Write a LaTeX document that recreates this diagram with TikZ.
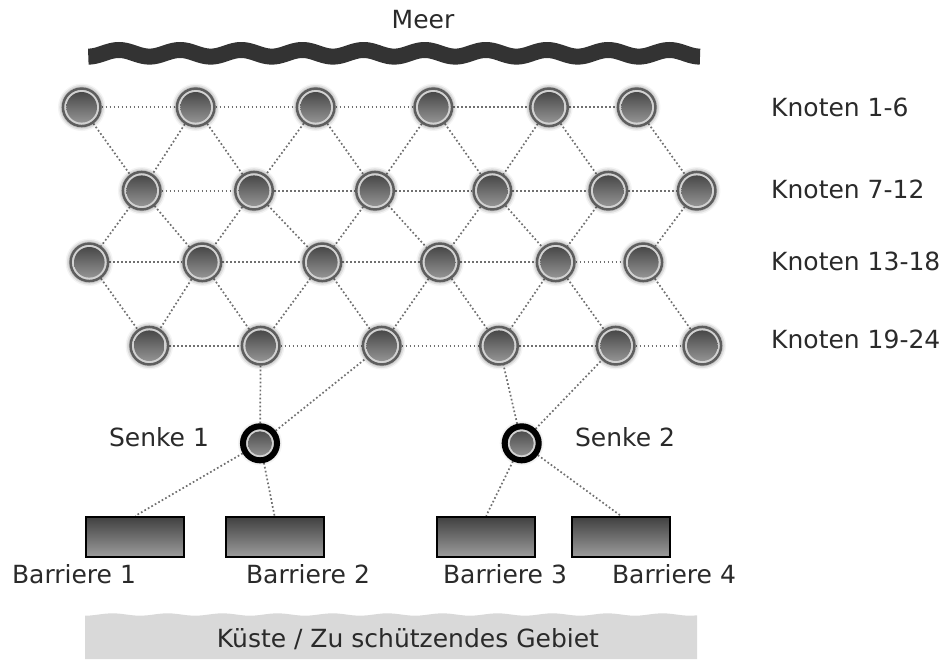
\documentclass[tikz,border=0pt]{standalone}
\usepackage{fontspec}
\setmainfont{DejaVu Sans}
\usetikzlibrary{shadows.blur,backgrounds}

\definecolor{ringgray}{HTML}{5E5E5E}
\definecolor{ringlight}{HTML}{D2D2D2}
\definecolor{disctop}{HTML}{404040}
\definecolor{discbottom}{HTML}{9C9C9C}
\definecolor{linkgray}{HTML}{707070}
\definecolor{seacol}{HTML}{333333}
\definecolor{coastgray}{HTML}{D9D9D9}
\definecolor{labelcol}{HTML}{2A2A2A}

\tikzset{
  lbl/.style={font=\fontsize{25}{29}\selectfont, text=labelcol, inner sep=0pt},
  glow/.style={blur shadow={shadow xshift=0pt, shadow yshift=0pt,
      shadow blur radius=5pt, shadow opacity=70}},
  sensor/.style={circle, glow, minimum size=37.5pt, inner sep=0pt,
      draw=ringgray, line width=2.5pt, fill=ringlight,
      path picture={\shade[top color=disctop, bottom color=discbottom]
        (path picture bounding box.center) circle (15.3pt);}},
  sink/.style={circle, glow, minimum size=34pt, inner sep=0pt,
      draw=black, line width=6pt, fill=ringlight,
      path picture={\shade[top color=disctop, bottom color=discbottom]
        (path picture bounding box.center) circle (12pt);}},
  barrier/.style={rectangle, minimum width=98pt, minimum height=40pt,
      draw=black, line width=2pt, top color=disctop, bottom color=discbottom},
  link/.style={draw=linkgray, line width=1.7pt, dash pattern=on 1.7pt off 2.3pt},
}

\begin{document}
\begin{tikzpicture}[x=1pt, y=-1pt]
\useasboundingbox (0,0) rectangle (952,659);

% sea
\node[lbl, anchor=base] (meer) at (423,28.3) {Meer};
\draw[seacol, line width=16pt]
  plot[domain=88.3:700, samples=300] (\x, {53.3 + 3.3*cos(5.8853*(\x-88.3))});

% coast
\fill[coastgray] (85,659) -- plot[domain=85:697, samples=120]
  (\x, {614.5 + 1.2*cos(6.5455*(\x-85))}) -- (697,659) -- cycle;
\node[lbl, anchor=base] (coast) at (408,647) {Küste / Zu schützendes Gebiet};

% sensor nodes, four rows
\foreach \x [count=\i from 1] in {81.7,195.7,315.7,433.3,549,636.7}
  \node[sensor] (n\i) at (\x,107.3) {};
\foreach \x [count=\i from 7] in {141.7,254,375,492.3,608.3,696.7}
  \node[sensor] (n\i) at (\x,190.7) {};
\foreach \x [count=\i from 13] in {89.3,202.3,322.3,440,555.7,643.3}
  \node[sensor] (n\i) at (\x,262.3) {};
\foreach \x [count=\i from 19] in {149.3,260.7,381.7,499,615.7,702.3}
  \node[sensor] (n\i) at (\x,345.7) {};

% row labels
\node[lbl, anchor=base west] (k1) at (771,116.7) {Knoten 1-6};
\node[lbl, anchor=base west] (k2) at (771,198) {Knoten 7-12};
\node[lbl, anchor=base west] (k3) at (771,270) {Knoten 13-18};
\node[lbl, anchor=base west] (k4) at (771,348) {Knoten 19-24};

% sinks
\node[sink] (s1) at (260,443.3) {};
\node[sink] (s2) at (521.7,443.3) {};
\node[lbl, anchor=base] (s1l) at (159,446.7) {Senke 1};
\node[lbl, anchor=base] (s2l) at (625,446.7) {Senke 2};

% barriers
\node[barrier] (b1) at (135.4,536.8) {};
\node[barrier] (b2) at (274.5,536.8) {};
\node[barrier] (b3) at (486.2,536.8) {};
\node[barrier] (b4) at (620.8,536.8) {};
\node[lbl, anchor=base] (b1l) at (74,583) {Barriere 1};
\node[lbl, anchor=base] (b2l) at (308,583) {Barriere 2};
\node[lbl, anchor=base] (b3l) at (505,583) {Barriere 3};
\node[lbl, anchor=base] (b4l) at (674,583) {Barriere 4};

% radio links
\begin{pgfonlayer}{background}
\foreach \a/\b in {1/2,2/3,3/4,4/5,5/6, 7/8,8/9,9/10,10/11,11/12,
                   13/14,14/15,15/16,16/17,17/18, 19/20,20/21,21/22,22/23,23/24,
                   1/7,2/8,3/9,4/10,5/11,6/12, 2/7,3/8,4/9,5/10,
                   7/13,8/14,9/15,10/16,11/17,12/18, 7/14,8/15,9/16,10/17,
                   13/19,14/20,15/21,16/22,17/23,18/24, 14/19,15/20,16/21,17/22}
  \draw[link] (n\a) -- (n\b);
\draw[link] (s1) -- (n20);
\draw[link] (s1) -- (n21);
\draw[link] (s2) -- (n22);
\draw[link] (s2) -- (n23);
\draw[link] (s1) -- (b1.north);
\draw[link] (s1) -- (b2.north);
\draw[link] (s2) -- (b3.north);
\draw[link] (s2) -- (b4.north);
\end{pgfonlayer}
\end{tikzpicture}
\end{document}
